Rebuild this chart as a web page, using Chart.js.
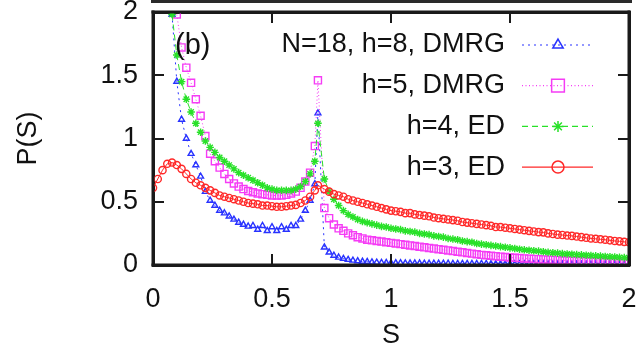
<!DOCTYPE html>
<html><head><meta charset="utf-8">
<script src="https://cdn.jsdelivr.net/npm/chart.js@4/dist/chart.umd.min.js"></script>
<style>html,body{margin:0;padding:0;background:#fff}#wrap{width:644px;height:354px}</style>
</head><body><div id="wrap"><canvas id="c" width="644" height="354"></canvas></div>
<script>
// S grid (spike point at ln2 ~ 0.693)
const S = [0.00,0.02,0.04,0.06,0.08,0.10,0.12,0.14,0.16,0.18,
  0.20,0.22,0.24,0.26,0.28,0.30,0.32,0.34,0.36,0.38,
  0.40,0.42,0.44,0.46,0.48,0.50,0.52,0.54,0.56,0.58,
  0.60,0.62,0.64,0.66,0.68,0.693,
  0.72,0.74,0.76,0.78,0.80,0.82,0.84,0.86,0.88,0.90,0.92,0.94,0.96,0.98,1.00,
  1.02,1.04,1.06,1.08,1.10,1.12,1.14,1.16,1.18,1.20,
  1.22,1.24,1.26,1.28,1.30,1.32,1.34,1.36,1.38,1.40,
  1.42,1.44,1.46,1.48,1.50,1.52,1.54,1.56,1.58,1.60,
  1.62,1.64,1.66,1.68,1.70,1.72,1.74,1.76,1.78,1.80,
  1.82,1.84,1.86,1.88,1.90,1.92,1.94,1.96,1.98,2.00];

// N=18, h=8, DMRG
const pH8 = [null,null,null,null,1.98,1.45,1.15,1.00,0.88,0.79,
  0.70,0.58,0.51,0.47,0.43,0.41,0.385,0.36,0.335,0.32,
  0.305,0.31,0.28,0.31,0.27,0.30,0.27,0.30,0.28,0.31,
  0.31,0.36,0.43,0.51,0.64,1.20,
  0.14,0.10,0.075,0.06,0.05,0.042,0.036,0.031,0.027,0.025,0.022,0.020,0.018,0.017,0.016,
  0.015,0.015,0.014,0.014,0.013,0.013,0.012,0.012,0.012,0.011,
  0.011,0.011,0.010,0.010,0.010,0.010,0.009,0.009,0.009,0.009,
  0.008,0.008,0.008,0.008,0.008,0.007,0.007,0.007,0.007,0.007,
  0.007,0.006,0.006,0.006,0.006,0.006,0.006,0.006,0.005,0.005,
  0.005,0.005,0.005,0.005,0.005,0.005,0.005,0.004,0.004,0.004];

// h=5, DMRG
const pH5 = [null,null,null,null,null,1.98,1.72,1.56,1.44,1.31,
  1.18,1.02,0.88,0.82,0.77,0.72,0.68,0.645,0.62,0.60,
  0.585,0.575,0.565,0.56,0.555,0.55,0.55,0.55,0.555,0.565,
  0.58,0.61,0.66,0.73,0.94,1.46,
  0.45,0.37,0.32,0.29,0.27,0.25,0.235,0.22,0.21,0.20,0.195,0.19,0.185,0.18,0.175,
  0.17,0.165,0.16,0.155,0.15,0.145,0.14,0.135,0.13,0.125,
  0.12,0.115,0.11,0.105,0.10,0.095,0.09,0.085,0.08,0.077,
  0.073,0.07,0.066,0.063,0.06,0.057,0.055,0.052,0.05,0.048,
  0.046,0.044,0.042,0.04,0.039,0.037,0.036,0.034,0.033,0.032,
  0.031,0.03,0.029,0.028,0.027,0.026,0.025,0.024,0.023,0.022];

// h=4, ED
const pH4 = [null,null,null,null,1.98,1.66,1.45,1.31,1.21,1.12,
  1.05,0.98,0.93,0.89,0.85,0.82,0.79,0.76,0.73,0.71,
  0.69,0.67,0.65,0.63,0.61,0.60,0.59,0.59,0.59,0.59,
  0.60,0.62,0.66,0.72,0.82,1.12,
  0.68,0.58,0.52,0.47,0.43,0.40,0.38,0.36,0.345,0.335,0.325,0.315,0.305,0.30,0.29,
  0.285,0.28,0.27,0.265,0.26,0.25,0.245,0.24,0.23,0.225,
  0.22,0.21,0.205,0.20,0.19,0.185,0.18,0.17,0.165,0.16,
  0.155,0.15,0.145,0.14,0.135,0.13,0.125,0.12,0.117,0.113,
  0.11,0.105,0.10,0.097,0.094,0.09,0.087,0.085,0.082,0.08,
  0.077,0.075,0.072,0.07,0.067,0.065,0.063,0.06,0.058,0.056];

// h=3, ED
const pH3 = [0.61,0.68,0.75,0.80,0.81,0.79,0.76,0.72,0.68,0.65,
  0.63,0.61,0.59,0.57,0.55,0.54,0.53,0.52,0.51,0.50,
  0.49,0.485,0.48,0.47,0.47,0.465,0.46,0.46,0.465,0.47,
  0.475,0.49,0.51,0.54,0.59,0.63,
  0.60,0.58,0.56,0.55,0.54,0.52,0.51,0.50,0.49,0.48,0.47,0.46,0.45,0.44,0.43,
  0.425,0.42,0.41,0.41,0.40,0.395,0.39,0.385,0.375,0.37,
  0.365,0.36,0.355,0.35,0.34,0.335,0.33,0.325,0.32,0.315,
  0.31,0.30,0.30,0.295,0.29,0.285,0.28,0.275,0.27,0.265,
  0.26,0.258,0.25,0.245,0.24,0.237,0.233,0.23,0.225,0.22,
  0.215,0.21,0.207,0.203,0.20,0.195,0.19,0.187,0.183,0.18];

const seriesLabels = ['N=18, h=8, DMRG', 'h=5, DMRG', 'h=4, ED', 'h=3, ED'];
const xTicks = [0, 0.5, 1, 1.5, 2];
const yTicks = [0, 0.5, 1, 1.5, 2];
const panelLabel = '(b)';

const FONT = '"Liberation Sans", Arial, Helvetica, sans-serif';
const toPts = arr => S.map((s, i) => ({x: s, y: arr[i]})).filter(p => p.y !== null);

const styles = [
  {color: 'rgb(40,50,255)',  dash: [2, 4],   point: 'triangle', r: 3.4, lr: 6,  order: 3},
  {color: 'rgb(245,60,245)', dash: [1, 2.5], point: 'rect',     r: 5,   lr: 9,  order: 2},
  {color: 'rgb(40,225,40)',  dash: [6, 4],   point: 'star',     r: 3.8, lr: 5.5, order: 1},
  {color: 'rgb(255,40,40)',  dash: [],       point: 'circle',   r: 3.6, lr: 6,  order: 0}
];
const seriesData = [pH8, pH5, pH4, pH3];

const datasets = seriesData.map((arr, i) => ({
  label: seriesLabels[i],
  data: toPts(arr),
  borderColor: styles[i].color,
  backgroundColor: 'rgba(0,0,0,0)',
  borderWidth: 1,
  borderDash: styles[i].dash,
  pointStyle: styles[i].point,
  pointRadius: styles[i].r,
  pointBorderWidth: 1.4,
  pointBorderColor: styles[i].color,
  pointBackgroundColor: 'rgba(0,0,0,0)',
  tension: 0,
  order: styles[i].order,
  xAxisID: 'x', yAxisID: 'y'
}));

const frameBorder = {display: true, color: '#1a1a1a', width: 3};

const framePlugin = {
  id: 'frame',
  afterDraw(chart) {
    const ctx = chart.ctx;
    const a = chart.chartArea;
    const xs = chart.scales.x, ys = chart.scales.y;
    const L = Math.round(a.left), R = Math.round(a.right), T = Math.round(a.top), B = Math.round(a.bottom);
    ctx.save();
    // partial border of the panel above
    ctx.fillStyle = '#2a2a2a';
    ctx.fillRect(L - 2, 0, R - L + 5, 3);
    // frame
    ctx.fillStyle = 'rgb(26,26,26)';
    ctx.fillRect(L - 1.5, T - 1.5, R - L + 3, 3);
    ctx.fillRect(L - 1.5, B - 1.5, R - L + 3, 3);
    ctx.fillRect(L - 1.5, T - 1.5, 3, B - T + 3);
    ctx.fillRect(R - 1.5, T - 1.5, 3, B - T + 3);
    // inward tick marks
    const tl = 11;
    xTicks.forEach(v => {
      const px = Math.round(xs.getPixelForValue(v));
      ctx.fillRect(px - 1, B - tl, 2, tl);
      ctx.fillRect(px - 1, T, 2, tl);
    });
    yTicks.forEach(v => {
      const py = Math.round(ys.getPixelForValue(v));
      ctx.fillRect(L, py - 1, tl, 2);
      ctx.fillRect(R - tl, py - 1, tl, 2);
    });
    // panel label
    ctx.fillStyle = '#111';
    ctx.font = '29px ' + FONT;
    ctx.textAlign = 'left'; ctx.textBaseline = 'middle';
    ctx.fillText(panelLabel, L + 22, T + 34);
    // legend (gnuplot style)
    const textRight = R - 124;
    const lx0 = R - 107, lx1 = R - 36, mx = R - 71;
    ctx.font = '27px ' + FONT;
    ctx.textAlign = 'right';
    seriesLabels.forEach((lab, i) => {
      const ry = T + 33 + i * 40.7;
      ctx.fillStyle = '#111';
      ctx.fillText(lab, textRight, ry);
      const st = styles[i];
      ctx.save();
      ctx.strokeStyle = st.color; ctx.lineWidth = 1.2;
      ctx.setLineDash(st.dash);
      ctx.beginPath(); ctx.moveTo(lx0, ry); ctx.lineTo(lx1, ry); ctx.stroke();
      ctx.setLineDash([]);
      ctx.fillStyle = 'rgba(0,0,0,0)';
      ctx.lineWidth = 1.5;
      Chart.helpers.drawPoint(ctx, {pointStyle: st.point, radius: st.lr, rotation: 0, borderWidth: 1.5}, mx, ry);
      ctx.restore();
    });
    ctx.restore();
  }
};

new Chart(document.getElementById('c'), {
  type: 'line',
  data: {datasets},
  options: {
    responsive: false,
    animation: false,
    devicePixelRatio: 1,
    layout: {padding: {left: 0, top: 12, right: 15, bottom: 0}},
    plugins: {legend: {display: false}, tooltip: {enabled: false}},
    scales: {
      x: {
        type: 'linear', min: 0, max: 2, position: 'bottom',
        afterBuildTicks: s => { s.ticks = xTicks.map(v => ({value: v})); },
        afterFit: s => { s.height = 89; s.paddingLeft = 0; s.paddingRight = 0; },
        grid: {display: false, drawTicks: false},
        border: frameBorder,
        ticks: {padding: 18, color: '#111', font: {family: FONT, size: 27}, callback: v => String(v), maxRotation: 0},
        title: {display: true, text: 'S', color: '#111', font: {family: FONT, size: 27}, padding: {top: 0, bottom: 2}}
      },
      x2: {
        type: 'linear', min: 0, max: 2, position: 'top',
        afterFit: s => { s.height = 0; s.paddingLeft = 0; s.paddingRight = 0; },
        grid: {display: false, drawTicks: false},
        border: frameBorder,
        ticks: {display: false}
      },
      y: {
        type: 'linear', min: 0, max: 2, position: 'left',
        afterBuildTicks: s => { s.ticks = yTicks.map(v => ({value: v})); },
        afterFit: s => { s.width = 153; s.paddingTop = 0; s.paddingBottom = 0; },
        grid: {display: false, drawTicks: false},
        border: frameBorder,
        ticks: {padding: 15, color: '#111', font: {family: FONT, size: 27}, callback: v => String(v)},
        title: {display: true, text: 'P(S)', color: '#111', font: {family: FONT, size: 27}, padding: {top: 12, bottom: 0}}
      },
      y2: {
        type: 'linear', min: 0, max: 2, position: 'right',
        afterFit: s => { s.width = 0; s.paddingTop = 0; s.paddingBottom = 0; },
        grid: {display: false, drawTicks: false},
        border: frameBorder,
        ticks: {display: false}
      }
    }
  },
  plugins: [framePlugin]
});
</script>
</body></html>
